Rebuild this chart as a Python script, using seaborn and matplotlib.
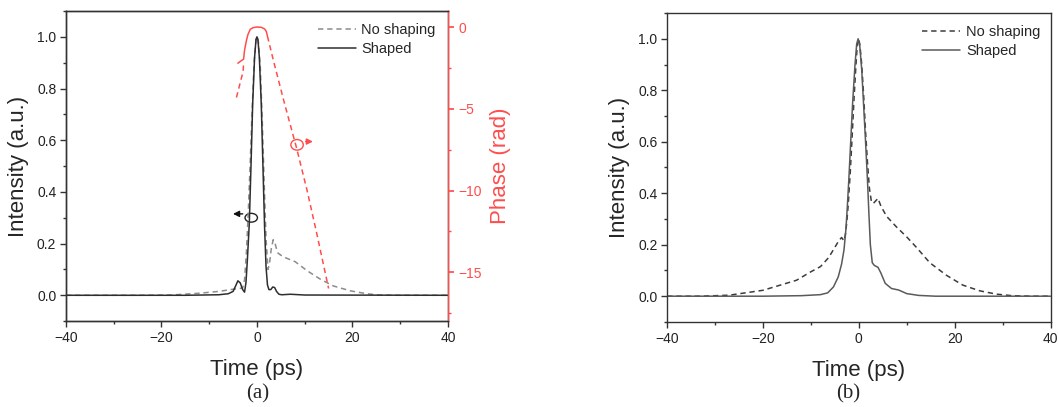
import matplotlib
matplotlib.use("Agg")
import matplotlib.pyplot as plt
import seaborn as sns
from matplotlib.patches import Ellipse
from matplotlib.ticker import MultipleLocator

# panel (a): intensity traces
t_a_shaped = [-40, -15, -8, -6, -5, -4.5, -4.0, -3.5, -3.0, -2.6, -2.3, -2.0, -1.6, -1.25, -0.9,
              -0.5, -0.2, 0, 0.2, 0.5, 0.9, 1.25, 1.6, 1.9, 2.2, 2.5, 2.9, 3.3, 3.7, 4.1, 4.6,
              5.2, 7, 10, 40]
i_a_shaped = [0, 0, 0.002, 0.006, 0.015, 0.035, 0.056, 0.048, 0.022, 0.012, 0.05, 0.14, 0.28,
              0.5, 0.74, 0.92, 0.99, 1.0, 0.99, 0.92, 0.74, 0.5, 0.26, 0.11, 0.04, 0.022, 0.022,
              0.032, 0.03, 0.015, 0.004, 0.002, 0.004, 0.001, 0]

t_a_noshape = [-40, -25, -18, -12, -8, -5.5, -4, -3, -2.6, -2.2, -1.8, -1.4, -1.0, -0.6, -0.2, 0,
               0.3, 0.7, 1.1, 1.5, 1.9, 2.3, 2.6, 3.0, 3.4, 3.8, 4.3, 5.0, 6, 8, 10.5, 13.3, 16,
               19.6, 23, 25.5, 30, 40]
i_a_noshape = [0, 0, 0.001, 0.008, 0.015, 0.022, 0.026, 0.028, 0.06, 0.17, 0.33, 0.52, 0.72, 0.9,
               0.99, 1.0, 0.98, 0.88, 0.68, 0.44, 0.22, 0.1, 0.12, 0.18, 0.215, 0.2, 0.165, 0.155,
               0.145, 0.13, 0.095, 0.062, 0.036, 0.017, 0.006, 0.001, 0, 0]

# panel (a): spectral phase (right axis)
t_phase_rise = [-4.3, -3.6, -2.9, -2.8]
phase_rise = [-4.3, -3.5, -2.7, -2.2]
t_phase_top = [-4.0, -3.3, -2.8, -2.6, -2.2, -1.9, -1.4, -0.8, 0, 0.9, 1.6, 1.95, 2.2]
phase_top = [-2.2, -2.05, -1.95, -1.4, -0.8, -0.45, -0.12, -0.02, 0.02, 0.0, -0.1, -0.25, -0.55]
t_phase_fall = [2.2, 3.5, 5.8, 8.3, 10.5, 12.5, 15.0]
phase_fall = [-0.55, -2.1, -4.7, -7.4, -10.0, -12.6, -16.0]

# panel (b): intensity traces
t_b_shaped = [-40, -20, -12, -8, -6.5, -5.3, -4.3, -3.6, -3.1, -2.7, -2.4, -2.1, -1.7, -1.3, -0.8,
              -0.45, -0.15, 0.2, 0.6, 1.0, 1.4, 1.8, 2.1, 2.4, 2.8, 3.2, 4.0, 4.6, 5.5, 6.8, 8.3,
              10, 12.5, 16, 40]
i_b_shaped = [0, 0, 0.002, 0.006, 0.013, 0.036, 0.075, 0.125, 0.18, 0.26, 0.35, 0.45, 0.6, 0.75,
              0.9, 0.98, 1.0, 0.97, 0.88, 0.74, 0.6, 0.45, 0.32, 0.2, 0.13, 0.12, 0.112, 0.09,
              0.05, 0.03, 0.024, 0.01, 0.003, 0, 0]

t_b_noshape = [-40, -33, -27, -20, -13, -10, -8, -6.3, -5, -4.2, -3.6, -3.1, -2.8, -2.5, -2.2,
               -1.8, -1.4, -1.0, -0.6, -0.35, -0.1, 0.2, 0.6, 1.0, 1.4, 1.8, 2.2, 2.6, 3.0, 3.5,
               4.0, 4.6, 5.8, 7.8, 10, 12, 14.8, 18.3, 21.7, 25.2, 28.7, 32, 36, 40]
i_b_noshape = [0, 0, 0.004, 0.023, 0.062, 0.095, 0.115, 0.15, 0.19, 0.215, 0.228, 0.215, 0.24,
               0.29, 0.36, 0.48, 0.62, 0.77, 0.9, 0.97, 1.0, 0.98, 0.9, 0.78, 0.64, 0.52, 0.42,
               0.37, 0.36, 0.37, 0.38, 0.35, 0.31, 0.27, 0.23, 0.19, 0.13, 0.081, 0.043, 0.021,
               0.008, 0.002, 0, 0]

sns.set_theme(style="ticks")
plt.rcParams["font.family"] = ["Liberation Sans", "DejaVu Sans"]
plt.rcParams["axes.edgecolor"] = "#333333"
plt.rcParams["axes.linewidth"] = 1.0
plt.rcParams["xtick.color"] = "#333333"
plt.rcParams["ytick.color"] = "#333333"
plt.rcParams["xtick.labelcolor"] = "#222222"
plt.rcParams["ytick.labelcolor"] = "#222222"

RED = "#ff4d4d"
DASH = (0, (3.5, 2.5))

fig = plt.figure(figsize=(10.59, 4.07), dpi=100)
ax1 = fig.add_axes([0.0623, 0.211, 0.3607, 0.762])
ax2 = fig.add_axes([0.630, 0.209, 0.362, 0.759])


def style_axis(ax):
    ax.set_xlim(-40, 40)
    ax.set_ylim(-0.1, 1.1)
    ax.xaxis.set_major_locator(MultipleLocator(20))
    ax.xaxis.set_minor_locator(MultipleLocator(10))
    ax.yaxis.set_major_locator(MultipleLocator(0.2))
    ax.yaxis.set_minor_locator(MultipleLocator(0.1))
    ax.yaxis.set_major_formatter(matplotlib.ticker.FormatStrFormatter("%.1f"))
    ax.tick_params(which="major", direction="out", length=4, width=1, labelsize=10, pad=3)
    ax.tick_params(which="minor", direction="out", length=2.5, width=1)
    ax.tick_params(top=False, right=False, which="both")
    for s in ax.spines.values():
        s.set_visible(True)
    ax.set_xlabel("Time (ps)", fontsize=16, labelpad=10)
    ax.set_ylabel("Intensity (a.u.)", fontsize=16, labelpad=6)


# (a)
sns.lineplot(x=t_a_noshape, y=i_a_noshape, ax=ax1, color="#8c8c8c", linestyle=DASH,
             linewidth=1.1, estimator=None, sort=False, label="No shaping")
sns.lineplot(x=t_a_shaped, y=i_a_shaped, ax=ax1, color="#2e2e2e", linewidth=1.1,
             estimator=None, sort=False, label="Shaped")
style_axis(ax1)
ax1.legend(loc="upper right", frameon=False, fontsize=10.5, handlelength=2.6,
           handletextpad=0.4, labelspacing=0.35, borderaxespad=0.3,
           bbox_to_anchor=(0.995, 0.995))

ax1.add_patch(Ellipse((-1.2, 0.30), 2.6, 0.034, fill=False, edgecolor="#222222", lw=1.0))
ax1.annotate("", xy=(-5.6, 0.315), xytext=(-2.4, 0.315),
             arrowprops=dict(arrowstyle="-|>", color="#111111", lw=1.0, mutation_scale=9))

axp = ax1.twinx()
sns.lineplot(x=t_phase_rise, y=phase_rise, ax=axp, color=RED, linestyle=DASH, linewidth=1.1,
             estimator=None, sort=False)
sns.lineplot(x=t_phase_top, y=phase_top, ax=axp, color=RED, linewidth=1.1,
             estimator=None, sort=False)
sns.lineplot(x=t_phase_fall, y=phase_fall, ax=axp, color=RED, linestyle=DASH, linewidth=1.1,
             estimator=None, sort=False)
axp.set_ylim(-18, 1)
axp.yaxis.set_major_locator(MultipleLocator(5))
axp.yaxis.set_minor_locator(MultipleLocator(2.5))
axp.tick_params(axis="y", which="both", colors=RED, labelcolor=RED, direction="out")
axp.tick_params(axis="y", which="major", length=4, labelsize=10)
axp.tick_params(axis="y", which="minor", length=2.5)
axp.spines["right"].set_color(RED)
axp.spines["right"].set_linewidth(1.0)
axp.set_ylabel("Phase (rad)", fontsize=16, color=RED, labelpad=6)
axp.add_patch(Ellipse((8.4, -7.2), 2.6, 0.65, fill=False, edgecolor=RED, lw=1.0))
axp.annotate("", xy=(12.3, -7.0), xytext=(9.6, -7.0),
             arrowprops=dict(arrowstyle="-|>", color=RED, lw=1.0, mutation_scale=9))

# (b)
sns.lineplot(x=t_b_noshape, y=i_b_noshape, ax=ax2, color="#3c3c3c", linestyle=DASH,
             linewidth=1.1, estimator=None, sort=False, label="No shaping")
sns.lineplot(x=t_b_shaped, y=i_b_shaped, ax=ax2, color="#5a5a5a", linewidth=1.1,
             estimator=None, sort=False, label="Shaped")
style_axis(ax2)
ax2.legend(loc="upper right", frameon=False, fontsize=10.5, handlelength=2.6,
           handletextpad=0.4, labelspacing=0.35, borderaxespad=0.3,
           bbox_to_anchor=(1.0, 0.995))

fig.text(0.243, 0.033, "(a)", fontsize=15, family="Liberation Serif", ha="center", va="center")
fig.text(0.801, 0.033, "(b)", fontsize=15, family="Liberation Serif", ha="center", va="center")

fig.savefig("out.png", dpi=100)
